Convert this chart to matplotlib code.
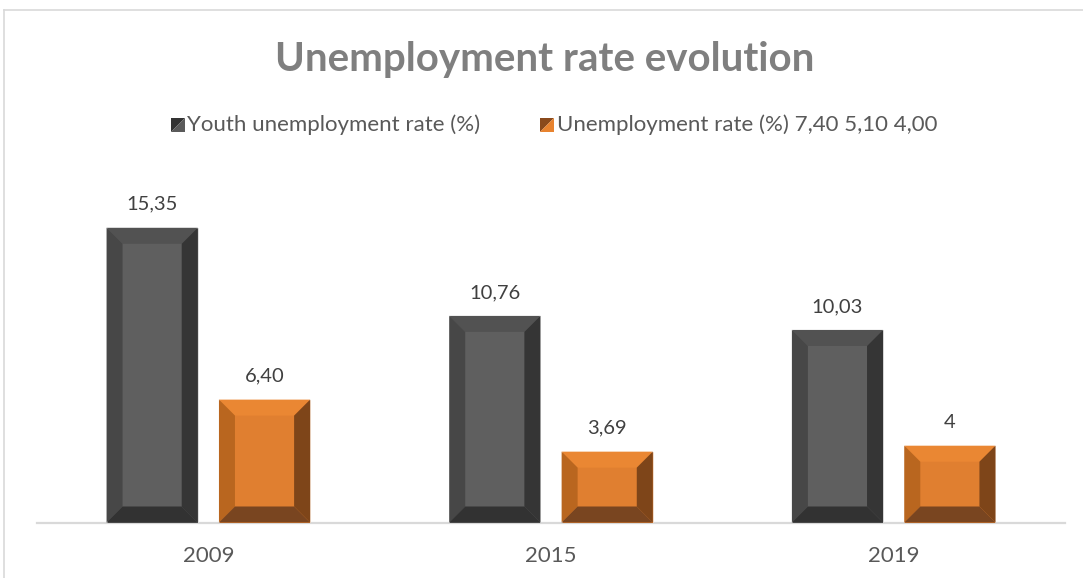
import matplotlib
matplotlib.use("Agg")
import matplotlib.pyplot as plt
from matplotlib.patches import Polygon
import numpy as np

# Data
years = ["2009", "2015", "2019"]
youth_rate = [15.35, 10.76, 10.03]
total_rate = [6.40, 3.69, 4.00]
series_names = ["Youth unemployment rate (%)", "Unemployment rate (%) 7,40 5,10 4,00"]
title = "Unemployment rate evolution"

W, H = 1083, 578
DPI = 100
plt.rcParams["font.family"] = ["Lato", "DejaVu Sans"]

fig = plt.figure(figsize=(W / DPI, H / DPI), dpi=DPI)
fig.patch.set_facecolor("white")

# Outer chart-area border (cropped on right and bottom)
fig.add_artist(plt.Line2D([4 / W, 4 / W], [0, 1 - 10 / H], transform=fig.transFigure,
                          color="#d9d9d9", lw=1.2))
fig.add_artist(plt.Line2D([4 / W, 1], [1 - 10 / H, 1 - 10 / H], transform=fig.transFigure,
                          color="#d9d9d9", lw=1.2))

# Plot area
ax_left, ax_right = 37, 1065
ax_bottom = 55.5  # pixels from figure bottom
ymax = 18.0
px_per_unit = 19.2
ax = fig.add_axes([ax_left / W, ax_bottom / H, (ax_right - ax_left) / W,
                   ymax * px_per_unit / H])
ax.set_xlim(-0.5, 2.5)
ax.set_ylim(0, ymax)

x = np.arange(len(years))
bw = 0.266
off = 0.164

styles = [
    dict(face="#5f5f5f", top="#525252", left="#474747", right="#353535", bottom="#323232"),
    dict(face="#e07f30", top="#ea8733", left="#b9661f", right="#7e4519", bottom="#794520"),
]

bars_youth = ax.bar(x - off, youth_rate, width=bw, color=styles[0]["face"], zorder=2,
                    edgecolor="#e8e8e8", linewidth=0.6)
bars_total = ax.bar(x + off, total_rate, width=bw, color=styles[1]["face"], zorder=2,
                    edgecolor="#f3e3d6", linewidth=0.6)

# Bevel edges drawn on each bar
xs_per_px = 3.0 / (ax_right - ax_left)
ys_per_px = 1.0 / px_per_unit
bevel = 16
dx, dy = bevel * xs_per_px, bevel * ys_per_px


def add_bevel(bars, st):
    for p in bars:
        x0, y0 = p.get_x(), p.get_y()
        x1, y1 = x0 + p.get_width(), y0 + p.get_height()
        polys = {
            "top": [(x0, y1), (x1, y1), (x1 - dx, y1 - dy), (x0 + dx, y1 - dy)],
            "left": [(x0, y0), (x0, y1), (x0 + dx, y1 - dy), (x0 + dx, y0 + dy)],
            "right": [(x1, y0), (x1, y1), (x1 - dx, y1 - dy), (x1 - dx, y0 + dy)],
            "bottom": [(x0, y0), (x1, y0), (x1 - dx, y0 + dy), (x0 + dx, y0 + dy)],
        }
        for k, pts in polys.items():
            ax.add_patch(Polygon(pts, closed=True, facecolor=st[k], edgecolor="none",
                                 zorder=3))


add_bevel(bars_youth, styles[0])
add_bevel(bars_total, styles[1])


def fmt(v):
    if float(v).is_integer():
        return f"{int(v)}"
    return f"{v:.2f}".replace(".", ",")


for bars, vals in ((bars_youth, youth_rate), (bars_total, total_rate)):
    for p, v in zip(bars, vals):
        ax.annotate(fmt(v), (p.get_x() + p.get_width() / 2, p.get_height()),
                    xytext=(0, 15), textcoords="offset pixels", ha="center",
                    va="bottom", fontsize=14.5, color="#404040")

# Axes styling
for s in ("top", "left", "right"):
    ax.spines[s].set_visible(False)
ax.spines["bottom"].set_color("#d9d9d9")
ax.spines["bottom"].set_linewidth(1.6)
ax.spines["bottom"].set_zorder(1)
ax.set_yticks([])
ax.set_xticks(x)
ax.set_xticklabels(years, fontsize=16, color="#595959")
ax.tick_params(axis="x", length=0, pad=17)
ax.set_facecolor("none")

# Title
fig.text(545 / W, 1 - 60 / H, title, ha="center", va="center", fontsize=29,
         fontweight="bold", color="#7f7f7f")


# Legend with two-tone square keys
def legend_key(px, py, dark, light):
    s = 14
    x0, y0 = px / W, 1 - (py + s / 2) / H
    x1, y1 = (px + s) / W, 1 - (py - s / 2) / H
    fig.add_artist(Polygon([(x0, y1), (x1, y1), (x0, y0)], closed=True,
                           transform=fig.transFigure, facecolor=dark, edgecolor="none"))
    fig.add_artist(Polygon([(x1, y1), (x1, y0), (x0, y0)], closed=True,
                           transform=fig.transFigure, facecolor=light, edgecolor="none"))


legend_y = 125
legend_key(171, legend_y, "#333333", "#5a5a5a")
legend_key(540, legend_y, "#8a4a1c", "#e8832f")
fig.text(187 / W, 1 - legend_y / H, series_names[0], ha="left", va="center",
         fontsize=16, color="#595959")
fig.text(557 / W, 1 - legend_y / H, series_names[1], ha="left", va="center",
         fontsize=16, color="#595959")

fig.savefig("out.png", dpi=DPI)
